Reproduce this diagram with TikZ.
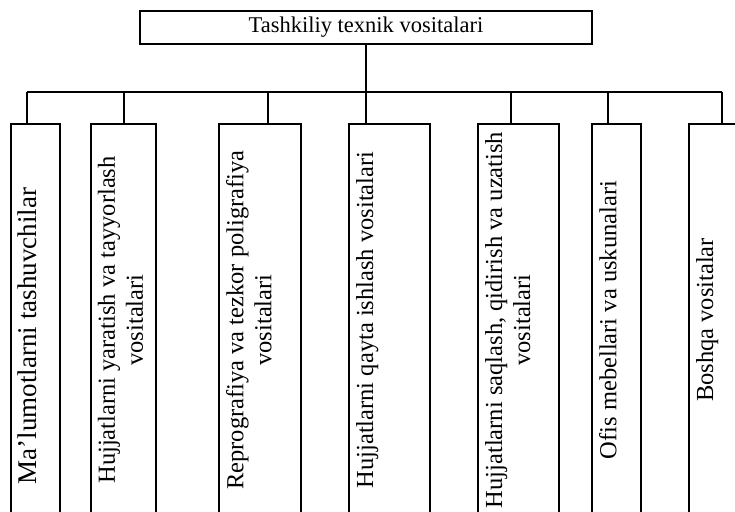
\documentclass[tikz,border=0pt]{standalone}
\usepackage{fontspec}
\setmainfont{Liberation Serif}
\usetikzlibrary{positioning}

\begin{document}
\begin{tikzpicture}[x=0.5pt, y=-0.5pt, line width=0.95pt,
    rootbox/.style={draw, minimum width=226pt, minimum height=16.5pt, inner sep=0pt,
        font=\fontsize{11.25}{13}\selectfont},
    toolbox/.style={draw, minimum height=196pt, inner sep=0pt},
    toollabel/.style={rotate=90, anchor=north, align=center, inner sep=3.5pt,
        font=\fontsize{12.25}{14}\selectfont}]
    \useasboundingbox (0,0) rectangle (735,512);

    % Top box
    \node[rootbox] (root) at (366,27.5) {Tashkiliy texnik vositalari};

    % Lower boxes
    \node[toolbox, minimum width=24.5pt] (b1) at (35.5,320) {};
    \node[toolbox, minimum width=32.5pt] (b2) at (123.5,320) {};
    \node[toolbox, minimum width=41pt] (b3) at (260,320) {};
    \node[toolbox, minimum width=40.5pt] (b4) at (389.5,320) {};
    \node[toolbox, minimum width=40.5pt] (b5) at (518.5,320) {};
    \node[toolbox, minimum width=24.5pt] (b6) at (616.5,320) {};
    \node[toolbox, minimum width=24.5pt] (b7) at (713.5,320) {};

    % Texts in the boxes
    \node[toollabel, font=\fontsize{13.5}{15}\selectfont] (t1) at ([yshift=-8pt]b1.west) {Ma’lumotlarni tashuvchilar};
    \node[toollabel] (t2) at (b2.west) {Hujjatlarni yaratish va tayyorlash\\vositalari};
    \node[toollabel] (t3) at (b3.west) {Reprografiya va tezkor poligrafiya\\vositalari};
    \node[toollabel] (t4) at (b4.west) {Hujjatlarni qayta ishlash vositalari};
    \node[toollabel] (t5) at (b5.west) {Hujjatlarni saqlash, qidirish va uzatish\\vositalari};
    \node[toollabel] (t6) at (b6.west) {Ofis mebellari va uskunalari};
    \node[toollabel] (t7) at (b7.west) {Boshqa vositalar};

    % Bus points
    \coordinate (d1) at (27,92);
    \coordinate (d2) at (124,92);
    \coordinate (d3) at (268,92);
    \coordinate (d5) at (511,92);
    \coordinate (d6) at (608,92);
    \coordinate (d7) at (722,92);

    % Connectors
    \draw (root.south) -- (root.south |- b4.north);
    \draw (d1) -- (d7);
    \draw (d1) -- (d1 |- b1.north);
    \draw (d2) -- (d2 |- b2.north);
    \draw (d3) -- (d3 |- b3.north);
    \draw (d5) -- (d5 |- b5.north);
    \draw (d6) -- (d6 |- b6.north);
    \draw (d7) -- (d7 |- b7.north);
\end{tikzpicture}
\end{document}
